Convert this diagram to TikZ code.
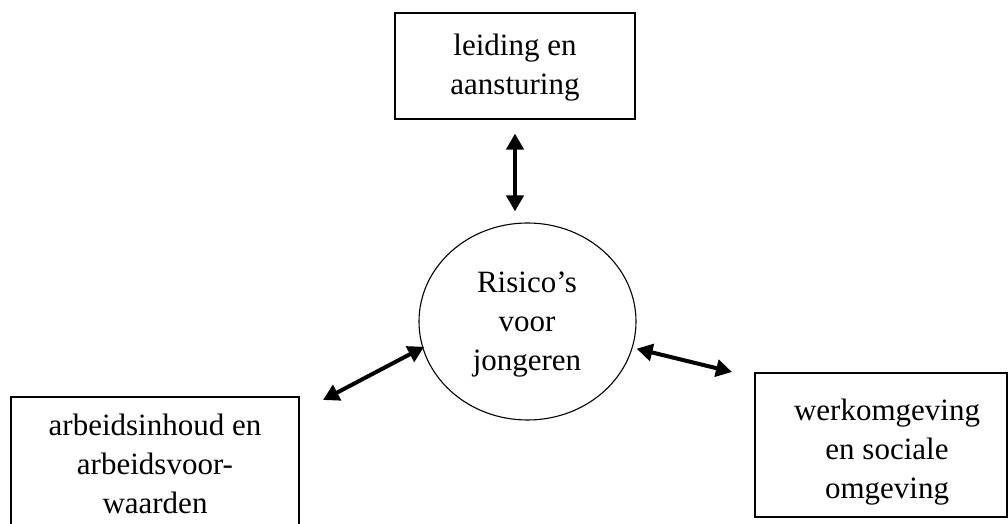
\documentclass[tikz,border=0pt]{standalone}
\usepackage{fontspec}
\setmainfont{Liberation Serif}
\usetikzlibrary{arrows.meta,shapes.geometric,calc}
\begin{document}
\begin{tikzpicture}[x=1pt,y=1pt,
  box/.style={draw,line width=1.1pt,inner sep=0pt},
  lbl/.style={align=center,font=\fontsize{31}{39}\selectfont,inner sep=0pt},
  dbl/.style={line width=4pt,{Triangle[length=16pt,width=17pt]}-{Triangle[length=16pt,width=17pt]}}]
\useasboundingbox (0,0) rectangle (1008,524);
\clip (0,0) rectangle (1008,524);
% top box
\node[box,minimum width=240pt,minimum height=106pt] (tbox) at (515,458) {};
\node[lbl] (ttext) at (515,456) {leiding en\\aansturing};
% centre ellipse
\node[draw,line width=1.1pt,ellipse,minimum width=217pt,minimum height=197pt,inner sep=0pt] (c) at (527.5,202.5) {};
\node[lbl] (ctext) at (527,199) {Risico’s\\voor\\jongeren};
% left box (runs off the bottom edge)
\node[box,minimum width=288pt,minimum height=180pt] (lbox) at (155,37) {};
\node[lbl] (ltext) at (155,60) {arbeidsinhoud en\\arbeidsvoor-\\waarden};
% right box
\node[box,minimum width=252pt,minimum height=144pt] (rbox) at (881,79) {};
\node[lbl] (rtext) at (887,71.5) {werkomgeving\\en sociale\\omgeving};
% connectors
\draw[dbl,shorten <=14pt,shorten >=11pt] (tbox.south) -- (tbox.south |- c.north);
\coordinate (la) at (323,124);
\draw[dbl,shorten >=-2pt] (la) -- (c.194);
\coordinate (ra) at (732,152);
\draw[dbl,shorten <=4pt] (c.346) -- (ra);
\end{tikzpicture}
\end{document}
